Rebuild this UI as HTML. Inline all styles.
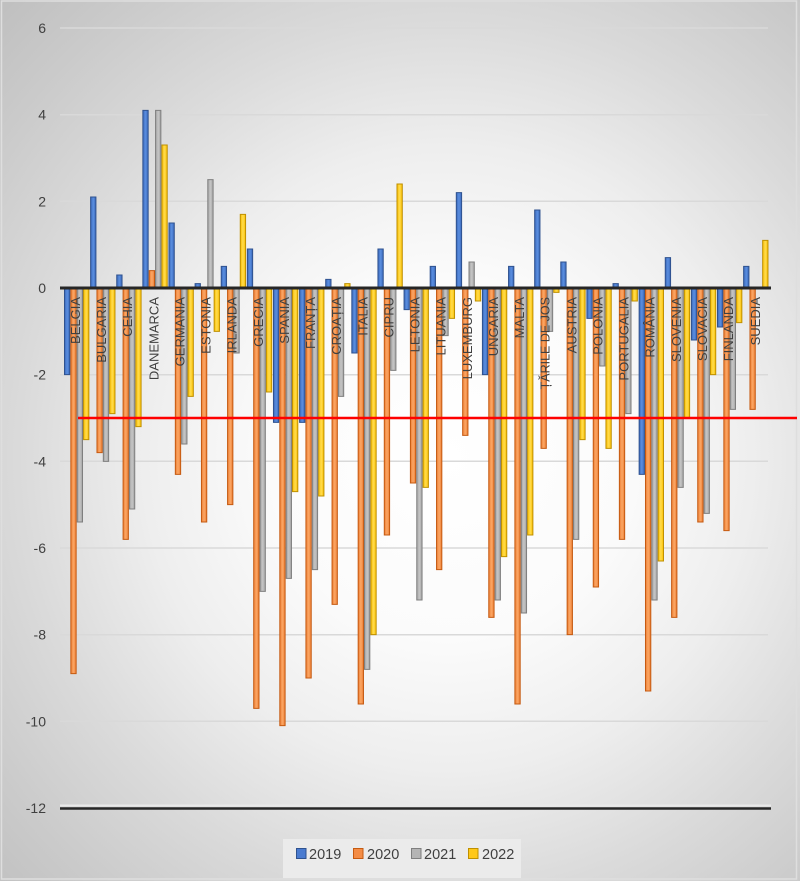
<!DOCTYPE html>
<html><head><meta charset="utf-8"><style>
html,body{margin:0;padding:0;}
body{width:800px;height:881px;overflow:hidden;}
#c{position:relative;width:800px;height:881px;background:radial-gradient(ellipse farthest-corner at 56% 52%,#ffffff 0%,#fbfbfb 28%,#eeeeee 48%,#dadada 68%,#cbcbcb 85%,#bfbfbf 100%);}
svg{position:absolute;left:0;top:0;}
text{font-family:"Liberation Sans","DejaVu Sans",sans-serif;}
</style></head><body><div id="c">
<svg width="800" height="881" viewBox="0 0 800 881" xmlns="http://www.w3.org/2000/svg">
<defs>
<linearGradient id="gb" x1="0" x2="1" y1="0" y2="0"><stop offset="0" stop-color="#3a68bb"/><stop offset="0.5" stop-color="#5b8fe0"/><stop offset="1" stop-color="#3a68bb"/></linearGradient>
<linearGradient id="go" x1="0" x2="1" y1="0" y2="0"><stop offset="0" stop-color="#ee7f35"/><stop offset="0.5" stop-color="#fba765"/><stop offset="1" stop-color="#ee7f35"/></linearGradient>
<linearGradient id="gg" x1="0" x2="1" y1="0" y2="0"><stop offset="0" stop-color="#a3a3a3"/><stop offset="0.5" stop-color="#c6c6c6"/><stop offset="1" stop-color="#a3a3a3"/></linearGradient>
<linearGradient id="gy" x1="0" x2="1" y1="0" y2="0"><stop offset="0" stop-color="#fcc000"/><stop offset="0.5" stop-color="#ffdc4f"/><stop offset="1" stop-color="#fcc000"/></linearGradient>
<style>
.b{fill:url(#gb);stroke:#2f528f;stroke-width:1;vector-effect:non-scaling-stroke;}
.o{fill:url(#go);stroke:#c55a11;stroke-width:1;vector-effect:non-scaling-stroke;}
.g{fill:url(#gg);stroke:#7f7f7f;stroke-width:1;vector-effect:non-scaling-stroke;}
.y{fill:url(#gy);stroke:#bf9000;stroke-width:1;vector-effect:non-scaling-stroke;}
.lb{font-size:13px;fill:#404040;}
.tk{font-size:14px;fill:#404040;}
</style>
</defs>
<rect x="1.5" y="1" width="795" height="878" fill="none" stroke="#dedede" stroke-width="1.5"/>
<!-- gridlines -->
<g stroke="#d9d9d9" stroke-width="1.5">
<line x1="60" y1="28" x2="768" y2="28"/>
<line x1="60" y1="114.7" x2="768" y2="114.7"/>
<line x1="60" y1="201.3" x2="768" y2="201.3"/>
<line x1="60" y1="374.7" x2="768" y2="374.7"/>
<line x1="60" y1="461.3" x2="768" y2="461.3"/>
<line x1="60" y1="548" x2="768" y2="548"/>
<line x1="60" y1="634.7" x2="768" y2="634.7"/>
<line x1="60" y1="721.3" x2="768" y2="721.3"/>
</g>
<line x1="60" y1="805.5" x2="771" y2="805.5" stroke="#e9e9e9" stroke-width="2"/>
<line x1="60" y1="808.5" x2="771" y2="808.5" stroke="#262626" stroke-width="2.5"/>
<!-- tick labels -->
<g class="tk" text-anchor="end" dominant-baseline="central">
<text x="46" y="28">6</text>
<text x="46" y="114.7">4</text>
<text x="46" y="201.3">2</text>
<text x="46" y="288">0</text>
<text x="46" y="374.7">-2</text>
<text x="46" y="461.3">-4</text>
<text x="46" y="548">-6</text>
<text x="46" y="634.7">-8</text>
<text x="46" y="721.3">-10</text>
<text x="46" y="808">-12</text>
</g>
<!-- bars -->
<g transform="translate(64,288) scale(1,-43.333)"><rect class="b" x="0.5" y="-2" width="5.3" height="2"/><rect class="o" x="6.85" y="-8.9" width="5.3" height="8.9"/><rect class="g" x="13.2" y="-5.4" width="5.3" height="5.4"/><rect class="y" x="19.55" y="-3.5" width="5.3" height="3.5"/></g>
<g transform="translate(90.12,288) scale(1,-43.333)"><rect class="b" x="0.5" y="0" width="5.3" height="2.1"/><rect class="o" x="6.85" y="-3.8" width="5.3" height="3.8"/><rect class="g" x="13.2" y="-4" width="5.3" height="4"/><rect class="y" x="19.55" y="-2.9" width="5.3" height="2.9"/></g>
<g transform="translate(116.24,288) scale(1,-43.333)"><rect class="b" x="0.5" y="0" width="5.3" height="0.3"/><rect class="o" x="6.85" y="-5.8" width="5.3" height="5.8"/><rect class="g" x="13.2" y="-5.1" width="5.3" height="5.1"/><rect class="y" x="19.55" y="-3.2" width="5.3" height="3.2"/></g>
<g transform="translate(142.36,288) scale(1,-43.333)"><rect class="b" x="0.5" y="0" width="5.3" height="4.1"/><rect class="o" x="6.85" y="0" width="5.3" height="0.4"/><rect class="g" x="13.2" y="0" width="5.3" height="4.1"/><rect class="y" x="19.55" y="0" width="5.3" height="3.3"/></g>
<g transform="translate(168.48,288) scale(1,-43.333)"><rect class="b" x="0.5" y="0" width="5.3" height="1.5"/><rect class="o" x="6.85" y="-4.3" width="5.3" height="4.3"/><rect class="g" x="13.2" y="-3.6" width="5.3" height="3.6"/><rect class="y" x="19.55" y="-2.5" width="5.3" height="2.5"/></g>
<g transform="translate(194.6,288) scale(1,-43.333)"><rect class="b" x="0.5" y="0" width="5.3" height="0.1"/><rect class="o" x="6.85" y="-5.4" width="5.3" height="5.4"/><rect class="g" x="13.2" y="0" width="5.3" height="2.5"/><rect class="y" x="19.55" y="-1" width="5.3" height="1"/></g>
<g transform="translate(220.72,288) scale(1,-43.333)"><rect class="b" x="0.5" y="0" width="5.3" height="0.5"/><rect class="o" x="6.85" y="-5" width="5.3" height="5"/><rect class="g" x="13.2" y="-1.5" width="5.3" height="1.5"/><rect class="y" x="19.55" y="0" width="5.3" height="1.7"/></g>
<g transform="translate(246.84,288) scale(1,-43.333)"><rect class="b" x="0.5" y="0" width="5.3" height="0.9"/><rect class="o" x="6.85" y="-9.7" width="5.3" height="9.7"/><rect class="g" x="13.2" y="-7" width="5.3" height="7"/><rect class="y" x="19.55" y="-2.4" width="5.3" height="2.4"/></g>
<g transform="translate(272.96,288) scale(1,-43.333)"><rect class="b" x="0.5" y="-3.1" width="5.3" height="3.1"/><rect class="o" x="6.85" y="-10.1" width="5.3" height="10.1"/><rect class="g" x="13.2" y="-6.7" width="5.3" height="6.7"/><rect class="y" x="19.55" y="-4.7" width="5.3" height="4.7"/></g>
<g transform="translate(299.08,288) scale(1,-43.333)"><rect class="b" x="0.5" y="-3.1" width="5.3" height="3.1"/><rect class="o" x="6.85" y="-9" width="5.3" height="9"/><rect class="g" x="13.2" y="-6.5" width="5.3" height="6.5"/><rect class="y" x="19.55" y="-4.8" width="5.3" height="4.8"/></g>
<g transform="translate(325.2,288) scale(1,-43.333)"><rect class="b" x="0.5" y="0" width="5.3" height="0.2"/><rect class="o" x="6.85" y="-7.3" width="5.3" height="7.3"/><rect class="g" x="13.2" y="-2.5" width="5.3" height="2.5"/><rect class="y" x="19.55" y="0" width="5.3" height="0.1"/></g>
<g transform="translate(351.32,288) scale(1,-43.333)"><rect class="b" x="0.5" y="-1.5" width="5.3" height="1.5"/><rect class="o" x="6.85" y="-9.6" width="5.3" height="9.6"/><rect class="g" x="13.2" y="-8.8" width="5.3" height="8.8"/><rect class="y" x="19.55" y="-8" width="5.3" height="8"/></g>
<g transform="translate(377.44,288) scale(1,-43.333)"><rect class="b" x="0.5" y="0" width="5.3" height="0.9"/><rect class="o" x="6.85" y="-5.7" width="5.3" height="5.7"/><rect class="g" x="13.2" y="-1.9" width="5.3" height="1.9"/><rect class="y" x="19.55" y="0" width="5.3" height="2.4"/></g>
<g transform="translate(403.56,288) scale(1,-43.333)"><rect class="b" x="0.5" y="-0.5" width="5.3" height="0.5"/><rect class="o" x="6.85" y="-4.5" width="5.3" height="4.5"/><rect class="g" x="13.2" y="-7.2" width="5.3" height="7.2"/><rect class="y" x="19.55" y="-4.6" width="5.3" height="4.6"/></g>
<g transform="translate(429.68,288) scale(1,-43.333)"><rect class="b" x="0.5" y="0" width="5.3" height="0.5"/><rect class="o" x="6.85" y="-6.5" width="5.3" height="6.5"/><rect class="g" x="13.2" y="-1.1" width="5.3" height="1.1"/><rect class="y" x="19.55" y="-0.7" width="5.3" height="0.7"/></g>
<g transform="translate(455.8,288) scale(1,-43.333)"><rect class="b" x="0.5" y="0" width="5.3" height="2.2"/><rect class="o" x="6.85" y="-3.4" width="5.3" height="3.4"/><rect class="g" x="13.2" y="0" width="5.3" height="0.6"/><rect class="y" x="19.55" y="-0.3" width="5.3" height="0.3"/></g>
<g transform="translate(481.92,288) scale(1,-43.333)"><rect class="b" x="0.5" y="-2" width="5.3" height="2"/><rect class="o" x="6.85" y="-7.6" width="5.3" height="7.6"/><rect class="g" x="13.2" y="-7.2" width="5.3" height="7.2"/><rect class="y" x="19.55" y="-6.2" width="5.3" height="6.2"/></g>
<g transform="translate(508.04,288) scale(1,-43.333)"><rect class="b" x="0.5" y="0" width="5.3" height="0.5"/><rect class="o" x="6.85" y="-9.6" width="5.3" height="9.6"/><rect class="g" x="13.2" y="-7.5" width="5.3" height="7.5"/><rect class="y" x="19.55" y="-5.7" width="5.3" height="5.7"/></g>
<g transform="translate(534.16,288) scale(1,-43.333)"><rect class="b" x="0.5" y="0" width="5.3" height="1.8"/><rect class="o" x="6.85" y="-3.7" width="5.3" height="3.7"/><rect class="g" x="13.2" y="-1" width="5.3" height="1"/><rect class="y" x="19.55" y="-0.1" width="5.3" height="0.1"/></g>
<g transform="translate(560.28,288) scale(1,-43.333)"><rect class="b" x="0.5" y="0" width="5.3" height="0.6"/><rect class="o" x="6.85" y="-8" width="5.3" height="8"/><rect class="g" x="13.2" y="-5.8" width="5.3" height="5.8"/><rect class="y" x="19.55" y="-3.5" width="5.3" height="3.5"/></g>
<g transform="translate(586.4,288) scale(1,-43.333)"><rect class="b" x="0.5" y="-0.7" width="5.3" height="0.7"/><rect class="o" x="6.85" y="-6.9" width="5.3" height="6.9"/><rect class="g" x="13.2" y="-1.8" width="5.3" height="1.8"/><rect class="y" x="19.55" y="-3.7" width="5.3" height="3.7"/></g>
<g transform="translate(612.52,288) scale(1,-43.333)"><rect class="b" x="0.5" y="0" width="5.3" height="0.1"/><rect class="o" x="6.85" y="-5.8" width="5.3" height="5.8"/><rect class="g" x="13.2" y="-2.9" width="5.3" height="2.9"/><rect class="y" x="19.55" y="-0.3" width="5.3" height="0.3"/></g>
<g transform="translate(638.64,288) scale(1,-43.333)"><rect class="b" x="0.5" y="-4.3" width="5.3" height="4.3"/><rect class="o" x="6.85" y="-9.3" width="5.3" height="9.3"/><rect class="g" x="13.2" y="-7.2" width="5.3" height="7.2"/><rect class="y" x="19.55" y="-6.3" width="5.3" height="6.3"/></g>
<g transform="translate(664.76,288) scale(1,-43.333)"><rect class="b" x="0.5" y="0" width="5.3" height="0.7"/><rect class="o" x="6.85" y="-7.6" width="5.3" height="7.6"/><rect class="g" x="13.2" y="-4.6" width="5.3" height="4.6"/><rect class="y" x="19.55" y="-3" width="5.3" height="3"/></g>
<g transform="translate(690.88,288) scale(1,-43.333)"><rect class="b" x="0.5" y="-1.2" width="5.3" height="1.2"/><rect class="o" x="6.85" y="-5.4" width="5.3" height="5.4"/><rect class="g" x="13.2" y="-5.2" width="5.3" height="5.2"/><rect class="y" x="19.55" y="-2" width="5.3" height="2"/></g>
<g transform="translate(717,288) scale(1,-43.333)"><rect class="b" x="0.5" y="-0.9" width="5.3" height="0.9"/><rect class="o" x="6.85" y="-5.6" width="5.3" height="5.6"/><rect class="g" x="13.2" y="-2.8" width="5.3" height="2.8"/><rect class="y" x="19.55" y="-0.8" width="5.3" height="0.8"/></g>
<g transform="translate(743.12,288) scale(1,-43.333)"><rect class="b" x="0.5" y="0" width="5.3" height="0.5"/><rect class="o" x="6.85" y="-2.8" width="5.3" height="2.8"/><rect class="y" x="19.55" y="0" width="5.3" height="1.1"/></g>
<!-- zero axis -->
<line x1="60" y1="288" x2="771" y2="288" stroke="#262626" stroke-width="3"/>
<!-- category labels -->
<g class="lb" text-anchor="end" dominant-baseline="central">
<text transform="translate(75.5,297) rotate(-90)">BELGIA</text>
<text transform="translate(101.6,297) rotate(-90)">BULGARIA</text>
<text transform="translate(127.7,297) rotate(-90)">CEHIA</text>
<text transform="translate(153.9,297) rotate(-90)">DANEMARCA</text>
<text transform="translate(180,297) rotate(-90)">GERMANIA</text>
<text transform="translate(206.1,297) rotate(-90)">ESTONIA</text>
<text transform="translate(232.2,297) rotate(-90)">IRLANDA</text>
<text transform="translate(258.3,297) rotate(-90)">GRECIA</text>
<text transform="translate(284.5,297) rotate(-90)">SPANIA</text>
<text transform="translate(310.6,297) rotate(-90)">FRANȚA</text>
<text transform="translate(336.7,297) rotate(-90)">CROAȚIA</text>
<text transform="translate(362.8,297) rotate(-90)">ITALIA</text>
<text transform="translate(388.9,297) rotate(-90)">CIPRU</text>
<text transform="translate(415.1,297) rotate(-90)">LETONIA</text>
<text transform="translate(441.2,297) rotate(-90)">LITUANIA</text>
<text transform="translate(467.3,297) rotate(-90)">LUXEMBURG</text>
<text transform="translate(493.4,297) rotate(-90)">UNGARIA</text>
<text transform="translate(519.5,297) rotate(-90)">MALTA</text>
<text transform="translate(545.7,297) rotate(-90)" style="font-size:12.5px">ȚĂRILE DE JOS</text>
<text transform="translate(571.8,297) rotate(-90)">AUSTRIA</text>
<text transform="translate(597.9,297) rotate(-90)">POLONIA</text>
<text transform="translate(624,297) rotate(-90)">PORTUGALIA</text>
<text transform="translate(650.1,297) rotate(-90)">ROMÂNIA</text>
<text transform="translate(676.3,297) rotate(-90)">SLOVENIA</text>
<text transform="translate(702.4,297) rotate(-90)">SLOVACIA</text>
<text transform="translate(728.5,297) rotate(-90)">FINLANDA</text>
<text transform="translate(755.6,297) rotate(-90)">SUEDIA</text>
</g>
<!-- red line -->
<line x1="78" y1="418" x2="797" y2="418" stroke="#ff0000" stroke-width="2.5"/>
<!-- legend -->
<rect x="283" y="839" width="238" height="39" fill="#ebebeb"/>
<rect x="296.5" y="848.5" width="9.5" height="10" fill="#4a7bd0" stroke="#2f528f" stroke-width="1"/>
<rect x="353.5" y="848.5" width="9.5" height="10" fill="#f48c45" stroke="#c55a11" stroke-width="1"/>
<rect x="411.5" y="848.5" width="9.5" height="10" fill="#b4b4b4" stroke="#7f7f7f" stroke-width="1"/>
<rect x="468.5" y="848.5" width="9.5" height="10" fill="#ffc818" stroke="#bf9000" stroke-width="1"/>
<g class="tk" style="font-size:14.5px">
<text x="309" y="859">2019</text>
<text x="367" y="859">2020</text>
<text x="424" y="859">2021</text>
<text x="482" y="859">2022</text>
</g>
</svg>
</div></body></html>
